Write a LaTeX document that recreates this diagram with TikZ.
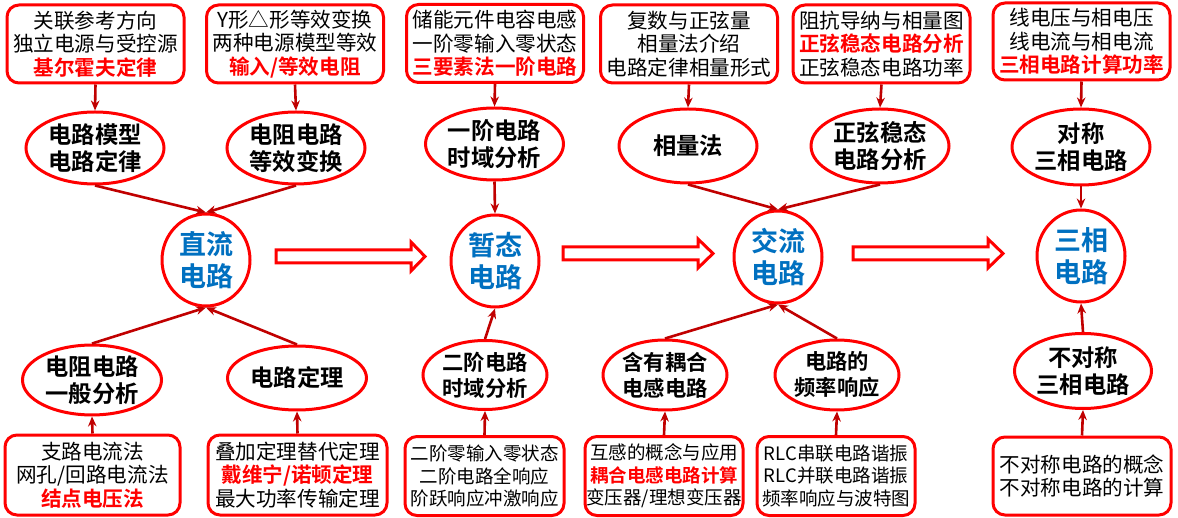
\documentclass[tikz,border=0pt]{standalone}
\usepackage{fontspec}
\setmainfont{Noto Sans CJK SC}[BoldFont={Noto Sans CJK SC Bold}]
\usetikzlibrary{shapes.geometric,arrows.meta}
\definecolor{bred}{HTML}{FF0000}
\definecolor{dred}{HTML}{C00000}
\definecolor{cblue}{HTML}{0070C0}
\tikzset{
  box/.style={draw=bred,line width=3pt,rounded corners=12pt,fill=white,align=center,inner sep=0pt,
    minimum width=177pt,minimum height=78pt,font=\fontsize{20.6}{23.3}\selectfont},
  sbox/.style={box,minimum width=158pt,minimum height=79pt,font=\fontsize{18.5}{22.5}\selectfont},
  ell/.style={draw=bred,ellipse,line width=3pt,fill=white,align=center,inner sep=0pt,
    minimum width=138pt,minimum height=72pt,font=\bfseries\fontsize{23.3}{27.5}\selectfont},
  sell/.style={ell,minimum width=124pt,minimum height=70pt,font=\bfseries\fontsize{21.3}{26}\selectfont},
  hub/.style={draw=bred,ellipse,line width=3pt,fill=white,align=center,inner sep=0pt,
    minimum width=88pt,minimum height=92pt,text=cblue,font=\bfseries\fontsize{27}{32}\selectfont},
  conn/.style={draw=dred,line width=2.6pt,-{Stealth[length=10pt,width=8.5pt]}},
  hollow/.style={draw=bred,line width=3pt,fill=white,line join=miter}
}
\newcommand{\hlt}[1]{{\color{bred}\bfseries #1}}
\begin{document}
\begin{tikzpicture}[x=1pt,y=-1pt]
\useasboundingbox (0,0) rectangle (1178,518);
% top boxes
\node[box] (B1) at (95.5,44) {关联参考方向\\独立电源与受控源\\\hlt{基尔霍夫定律}};
\node[box] (B2) at (295,44) {Y形△形等效变换\\两种电源模型等效\\\hlt{输入/等效电阻}};
\node[box] (B3) at (495,43.5) {储能元件电容电感\\一阶零输入零状态\\\hlt{三要素法一阶电路}};
\node[box] (B4) at (689,44) {复数与正弦量\\相量法介绍\\电路定律相量形式};
\node[box] (B5) at (881.5,44) {阻抗导纳与相量图\\\hlt{正弦稳态电路分析}\\正弦稳态电路功率};
\node[box,minimum height=77pt] (B6) at (1081.5,41.5) {线电压与相电压\\线电流与相电流\\\hlt{三相电路计算功率}};
% top ellipses
\node[ell] (E1) at (95,148) {电路模型\\电路定律};
\node[ell] (E2) at (296,148) {电阻电路\\等效变换};
\node[ell] (E3) at (494.5,144) {一阶电路\\时域分析};
\node[ell,minimum height=74pt] (E4) at (688,146) {相量法};
\node[ell,minimum height=74pt] (E5) at (880,146) {正弦稳态\\电路分析};
\node[ell,minimum height=76pt] (E6) at (1081,147) {对称\\三相电路};
% hubs
\node[hub] (C1) at (206,260) {直流\\电路};
\node[hub] (C2) at (495,261) {暂态\\电路};
\node[hub] (C3) at (778,257) {交流\\电路};
\node[hub] (C4) at (1081,256) {三相\\电路};
% bottom ellipses
\node[ell,minimum width=139pt,minimum height=66pt] (F1) at (92,380) {电阻电路\\一般分析};
\node[ell,minimum width=139pt,minimum height=64pt] (F2) at (297,378) {电路定理};
\node[sell,minimum height=69pt] (F3) at (485,375) {二阶电路\\时域分析};
\node[sell] (F4) at (665,375) {含有耦合\\电感电路};
\node[sell] (F5) at (837,375) {电路的\\频率响应};
\node[ell,minimum width=137pt,minimum height=75pt] (F6) at (1083,371) {不对称\\三相电路};
% bottom boxes
\node[box,minimum width=175pt,minimum height=80pt] (D1) at (92.5,475) {支路电流法\\网孔/回路电流法\\\hlt{结点电压法}};
\node[box,minimum width=179pt,minimum height=80pt] (D2) at (297.5,475) {叠加定理替代定理\\\hlt{戴维宁/诺顿定理}\\最大功率传输定理};
\node[sbox,minimum width=159pt] (D3) at (484.5,476) {二阶零输入零状态\\二阶电路全响应\\阶跃响应冲激响应};
\node[sbox] (D4) at (664,476) {互感的概念与应用\\\hlt{耦合电感电路计算}\\变压器/理想变压器};
\node[sbox] (D5) at (836,476) {RLC串联电路谐振\\RLC并联电路谐振\\频率响应与波特图};
\node[box,minimum width=178pt] (D6) at (1082,476) {不对称电路的概念\\不对称电路的计算};
% connectors top
\foreach \b/\e in {B1/E1,B2/E2,B3/E3,B4/E4,B5/E5,B6/E6}{
  \draw[conn] (\b.south) -- (\e.north);
}
\draw[conn] (E1.south) -- (C1.north);
\draw[conn] (E2.south) -- (C1.north);
\draw[conn] (E3.south) -- (C2.north);
\draw[conn] (E4.south) -- (C3.north);
\draw[conn] (E5.south) -- (C3.north);
\draw[conn] (E6.south) -- (C4.north);
% connectors bottom
\draw[conn] (F1.north) -- (C1.south);
\draw[conn] (F2.north) -- (C1.south);
\draw[conn] (F3.north) -- (C2.south);
\draw[conn] (F4.north) -- (C3.south);
\draw[conn] (F5.north) -- (C3.south);
\draw[conn] (F6.north) -- (C4.south);
\foreach \d/\f in {D1/F1,D2/F2,D3/F3,D4/F4,D5/F5,D6/F6}{
  \draw[conn] (\d.north) -- (\f.south);
}
% hollow arrows
\draw[hollow] (276,250) -- (411,250) -- (411,242) -- (425,256.5) -- (411,271) -- (411,263) -- (276,263) -- cycle;
\draw[hollow] (563,247) -- (698,247) -- (698,239) -- (713,253.5) -- (698,268) -- (698,260) -- (563,260) -- cycle;
\draw[hollow] (853,247) -- (988,247) -- (988,239) -- (1003,253.5) -- (988,268) -- (988,260) -- (853,260) -- cycle;
\end{tikzpicture}
\end{document}
